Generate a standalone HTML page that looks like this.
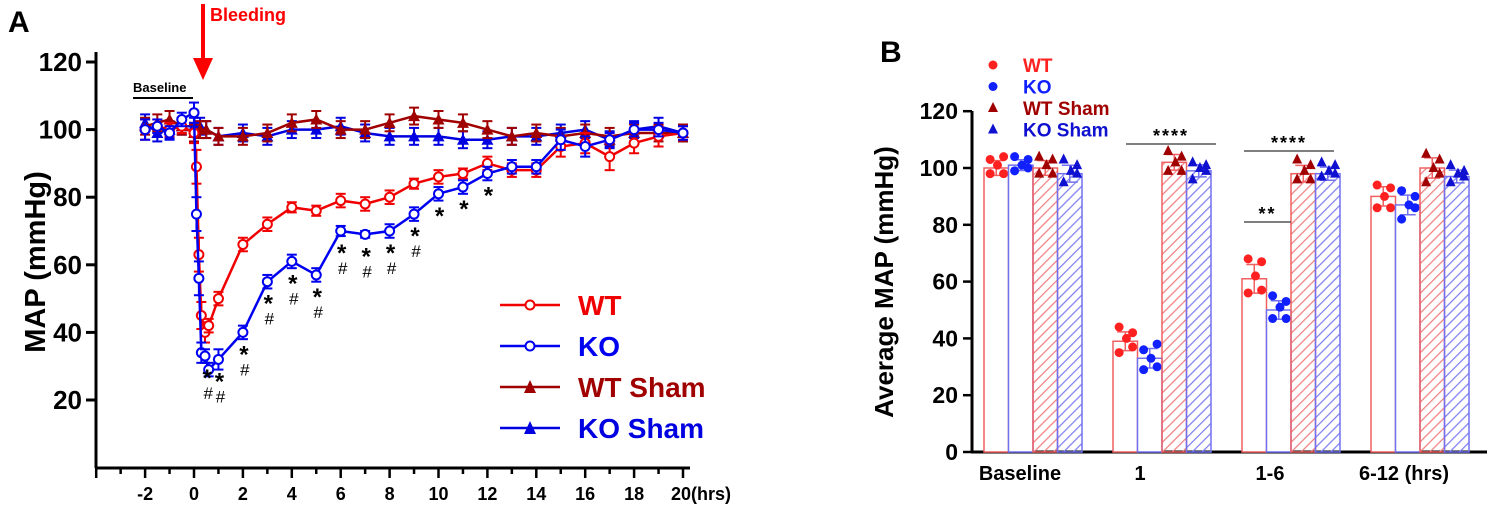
<!DOCTYPE html>
<html><head><meta charset="utf-8"><style>
body{margin:0;background:#fff}
svg{display:block;font-family:"Liberation Sans",Arial,sans-serif;font-weight:bold}
</style></head><body>
<svg id="chart" width="1500" height="510" viewBox="0 0 1500 510">
<defs>
<pattern id="hatchR" patternUnits="userSpaceOnUse" width="7" height="7" patternTransform="rotate(45)"><line x1="0" y1="0" x2="0" y2="7" stroke="#f08080" stroke-width="2.5"/></pattern>
<pattern id="hatchB" patternUnits="userSpaceOnUse" width="7" height="7" patternTransform="rotate(45)"><line x1="0" y1="0" x2="0" y2="7" stroke="#8080f0" stroke-width="2.5"/></pattern>
</defs>
<g id="A"></g><g id="B"></g>
</svg>
<script>
// ---------- Panel A data ----------
const tWT = [-2,-1.5,-1,-0.5,0,0.1,0.2,0.3,0.45,0.6,1,2,3,4,5,6,7,8,9,10,11,12,13,14,15,16,17,18,19,20];
const mapWT = [100,101,100,101,99,89,63,45,40,42,50,66,72,77,76,79,78,80,84,86,87,90,88,88,95,96,92,96,98,99];
const tKO = [-2,-1.5,-1,-0.5,0,0.1,0.2,0.3,0.45,0.6,1,2,3,4,5,6,7,8,9,10,11,12,13,14,15,16,17,18,19,20];
const mapKO = [100,101,99,103,105,75,56,34,33,29,32,40,55,61,57,70,69,70,75,81,83,87,89,89,97,95,97,100,100,99];
const tSham = [-2,-1.5,-1,-0.5,0,0.25,0.5,1,2,3,4,5,6,7,8,9,10,11,12,13,14,15,16,17,18,19,20];
const mapWTSham = [101,102,103,101,99,100,100,98,98,99,102,103,100,100,102,104,103,102,100,98,99,98,99,98,99,99,99];
const mapKOSham = [102,99,100,101,101,101,100,98,99,98,100,100,101,99,98,98,98,97,97,98,98,99,100,97,100,101,99];
const errWT = [3,2,2,2,3,5,5,4,3,2,2,2,2,1.5,1.5,2,2,2,1.5,2,1.5,2,2,2,3,3,4,3,3,2];
const errKO = [3,2,2,2,3,5,5,3,2,2,3,2,2,2,2,1.5,1,2,2,2,2,2,2,2,3,3,2,2,2,2];
const annTimes = [0.5,1,2,3,4,5,6,7,8,9,10,11,12];
const annText = ["*#","*#","*#","*#","*#","*#","*#","*#","*#","*#","*","*","*"];
const xTicksA = [-2,0,2,4,6,8,10,12,14,16,18,20];
const yTicksA = [20,40,60,80,100,120];
// ---------- Panel B data ----------
const groups = ["Baseline","1","1-6","6-12 (hrs)"];
const meanWT = [100,39,61,90];
const meanKO = [101,33,50,87];
const meanWTS = [100,102,98,100];
const meanKOS = [98,99,98,97];
const dotsWT = [[103,104,98,98,101],[44,42,35,37,40],[68,67,56,57,62],[94,93,86,86,90]];
const dotsKO = [[104,103,99,100,101],[36,38,29,30,33],[55,53,47,47,51],[92,90,82,86,87]];
const dotsWTS = [[104,103,98,98,101],[106,104,99,99,102],[103,101,96,96,99],[105,103,95,98,100]];
const dotsKOS = [[103,101,95,98,99],[102,101,96,99,100],[102,101,97,98,99],[101,99,95,97,98]];
const yTicksB = [0,20,40,60,80,100,120];

const NS="http://www.w3.org/2000/svg";
function mk(parent,tag,attrs,text){const e=document.createElementNS(NS,tag);for(const k in attrs)e.setAttribute(k,attrs[k]);if(text!==undefined)e.textContent=text;parent.appendChild(e);return e;}

// ---------- Panel A ----------
const A=document.getElementById('A');
const xA=t=>194+t*24.45, yA=v=>467.6-v*3.38;
let e;
e=mk(A,'text',{x:8,y:32,'font-size':30,fill:'#000'},'A');


e=mk(A,'line',{x1:96,y1:52,x2:96,y2:468,stroke:'#000','stroke-width':3});


e=mk(A,'line',{x1:95,y1:468,x2:690,y2:468,stroke:'#000','stroke-width':3});


yTicksA.forEach(v=>{
 mk(A,'line',{x1:86,y1:yA(v),x2:96,y2:yA(v),stroke:'#000','stroke-width':3});
 e=mk(A,'text',{x:82,y:yA(v)+9,'font-size':26,'text-anchor':'end'},v);
 
 
});
for(let t=-4;t<=20;t++){mk(A,'line',{x1:xA(t),y1:468,x2:xA(t),y2:t%2===0?478:474,stroke:'#000','stroke-width':2.5});}
xTicksA.forEach(t=>{
 e=mk(A,'text',{x:t===20?xA(t)-12:xA(t),y:500,'font-size':18,'text-anchor':t===20?'start':'middle'},t===20?'20(hrs)':t);
 
 
});
e=mk(A,'text',{x:0,y:0,'font-size':29,'text-anchor':'middle',transform:'translate(45,262) rotate(-90)'},'MAP (mmHg)');


e=mk(A,'line',{x1:203,y1:4,x2:203,y2:62,stroke:'#f00','stroke-width':4});


mk(A,'polygon',{points:'193,58 213,58 203,80',fill:'#f00'});
e=mk(A,'text',{x:210,y:21,'font-size':18,fill:'#f00'},'Bleeding');


e=mk(A,'text',{x:133,y:92,'font-size':13,fill:'#000'},'Baseline');


mk(A,'line',{x1:133,y1:98,x2:193,y2:98,stroke:'#000','stroke-width':2});

function series(ts,vs,errs,color,marker,name){
 const g=mk(A,'g',{});
 
 
 mk(g,'polyline',{points:ts.map((t,i)=>xA(t)+','+yA(vs[i])).join(' '),fill:'none',stroke:color,'stroke-width':2.5});
 ts.forEach((t,i)=>{
  const x=xA(t),y=yA(vs[i]),er=errs?errs[i]:2.5;
  mk(g,'line',{x1:x,y1:y-er*3.38,x2:x,y2:y+er*3.38,stroke:color,'stroke-width':2});
  mk(g,'line',{x1:x-5,y1:y-er*3.38,x2:x+5,y2:y-er*3.38,stroke:color,'stroke-width':2});
  mk(g,'line',{x1:x-5,y1:y+er*3.38,x2:x+5,y2:y+er*3.38,stroke:color,'stroke-width':2});
  let m;
  if(marker==='o') m=mk(g,'circle',{cx:x,cy:y,r:4.5,fill:'#fff',stroke:color,'stroke-width':2});
  else m=mk(g,'polygon',{points:`${x-6},${y+5} ${x+6},${y+5} ${x},${y-6}`,fill:color});
  
  
 });
}
series(tSham,mapKOSham,null,'#0000e0','t','series-ko-sham');
series(tSham,mapWTSham,null,'#a00000','t','series-wt-sham');
series(tWT,mapWT,errWT,'#f00000','o','series-wt');
series(tKO,mapKO,errKO,'#0000f0','o','series-ko');
annTimes.forEach((t,i)=>{
 const idx=tKO.indexOf(t)>=0?tKO.indexOf(t):tKO.indexOf(0.45);
 const y=yA(mapKO[idx])+24;
 const txt=annText[i];
 e=mk(A,'text',{x:xA(t)+1,y:y+6,'font-size':24,'text-anchor':'middle'},'*');
 
 
 if(txt.includes('#')){e=mk(A,'text',{x:xA(t)+2,y:y+19,'font-size':17,'font-weight':'normal','text-anchor':'middle'},'#');
 
 }
});
const legA=[['WT','#f00000','o'],['KO','#0000f0','o'],['WT Sham','#a00000','t'],['KO Sham','#0000e0','t']];
legA.forEach((l,i)=>{
 const y=305+i*41;
 const g=mk(A,'g',{});
 
 
 mk(g,'line',{x1:500,y1:y,x2:560,y2:y,stroke:l[1],'stroke-width':2.5});
 if(l[2]==='o') mk(g,'circle',{cx:530,cy:y,r:4.5,fill:'#fff',stroke:l[1],'stroke-width':2});
 else mk(g,'polygon',{points:`524,${y+6} 536,${y+6} 530,${y-7}`,fill:l[1]});
 mk(g,'text',{x:578,y:y+10,'font-size':28,fill:l[1]},l[0]);
});

// ---------- Panel B ----------
const B=document.getElementById('B');
const yB=v=>452-v*2.84;
const bw=24.5, gx0=984, gstep=129;
e=mk(B,'text',{x:880,y:62,'font-size':30},'B');


e=mk(B,'line',{x1:972,y1:111,x2:972,y2:453,stroke:'#000','stroke-width':3});


e=mk(B,'line',{x1:971,y1:452,x2:1487,y2:452,stroke:'#000','stroke-width':3});


yTicksB.forEach(v=>{
 mk(B,'line',{x1:963,y1:yB(v),x2:972,y2:yB(v),stroke:'#000','stroke-width':2.5});
 e=mk(B,'text',{x:958,y:yB(v)+8,'font-size':23,'text-anchor':'end'},v);
 
 
});
e=mk(B,'text',{x:0,y:0,'font-size':26,'text-anchor':'middle',transform:'translate(893,282) rotate(-90)'},'Average MAP (mmHg)');


const labX=[1020,1140,1270,1404];
groups.forEach((g,i)=>{
 e=mk(B,'text',{x:labX[i],y:480,'font-size':20,'text-anchor':'middle'},g);
 
 
});
const sets=[[meanWT,dotsWT,'#f03030','#ff2020','c','none'],[meanKO,dotsKO,'#5050f0','#1020ff','c','none'],[meanWTS,dotsWTS,'#555','#a00000','t','url(#hatchR)'],[meanKOS,dotsKOS,'#555','#1010d0','t','url(#hatchB)']];
const bcols=['#f06060','#7070f0','#f06060','#7070f0'];
const dotOff=[0.25,0.8,0.25,0.8,0.55];
groups.forEach((g,gi)=>{
 sets.forEach((s,si)=>{
  const x=gx0+gi*gstep+si*bw, m=s[0][gi];
  const r=mk(B,'rect',{x:x,y:yB(m),width:bw,height:452-yB(m),fill:s[5]==='none'?'#fff':s[5],stroke:bcols[si],'stroke-width':1.5});
  
  
  const ds=s[1][gi];
  const sd=Math.sqrt(ds.reduce((a,d)=>a+(d-m)*(d-m),0)/ds.length);
  const cx=x+bw/2;
  mk(B,'line',{x1:cx,y1:yB(m+sd),x2:cx,y2:yB(m-sd),stroke:bcols[si],'stroke-width':1.5});
  mk(B,'line',{x1:cx-8,y1:yB(m+sd),x2:cx+8,y2:yB(m+sd),stroke:bcols[si],'stroke-width':1.5});
  mk(B,'line',{x1:cx-8,y1:yB(m-sd),x2:cx+8,y2:yB(m-sd),stroke:bcols[si],'stroke-width':1.5});
  ds.forEach((d,di)=>{
   const dx=x+dotOff[di]*bw;
   const dy=yB(d);
   let p;
   if(s[4]==='c') p=mk(B,'circle',{cx:dx,cy:dy,r:4.5,fill:s[3]});
   else p=mk(B,'polygon',{points:`${dx-5},${dy+4} ${dx+5},${dy+4} ${dx},${dy-6}`,fill:s[3]});
   
   
  });
 });
});
const sig=[[1126,1216,144,'****'],[1244,1334,151,'****'],[1244,1291,222,'**']];
sig.forEach(s=>{
 mk(B,'line',{x1:s[0],y1:s[2],x2:s[1],y2:s[2],stroke:'#555','stroke-width':1.5});
 e=mk(B,'text',{x:(s[0]+s[1])/2,y:s[2]-2,'font-size':18,'text-anchor':'middle','letter-spacing':2},s[3]);
 
 
});
const legB=[['WT','#ff2020','c'],['KO','#1020ff','c'],['WT Sham','#a00000','t'],['KO Sham','#1010d0','t']];
legB.forEach((l,i)=>{
 const y=65+i*21.5;
 const g=mk(B,'g',{});
 
 
 if(l[2]==='c') mk(g,'circle',{cx:993,cy:y,r:4.5,fill:l[1]});
 else mk(g,'polygon',{points:`988,${y+4} 998,${y+4} 993,${y-6}`,fill:l[1]});
 mk(g,'text',{x:1023,y:y+7,'font-size':19,fill:l[1]},l[0]);
});
</script>
</body></html>
